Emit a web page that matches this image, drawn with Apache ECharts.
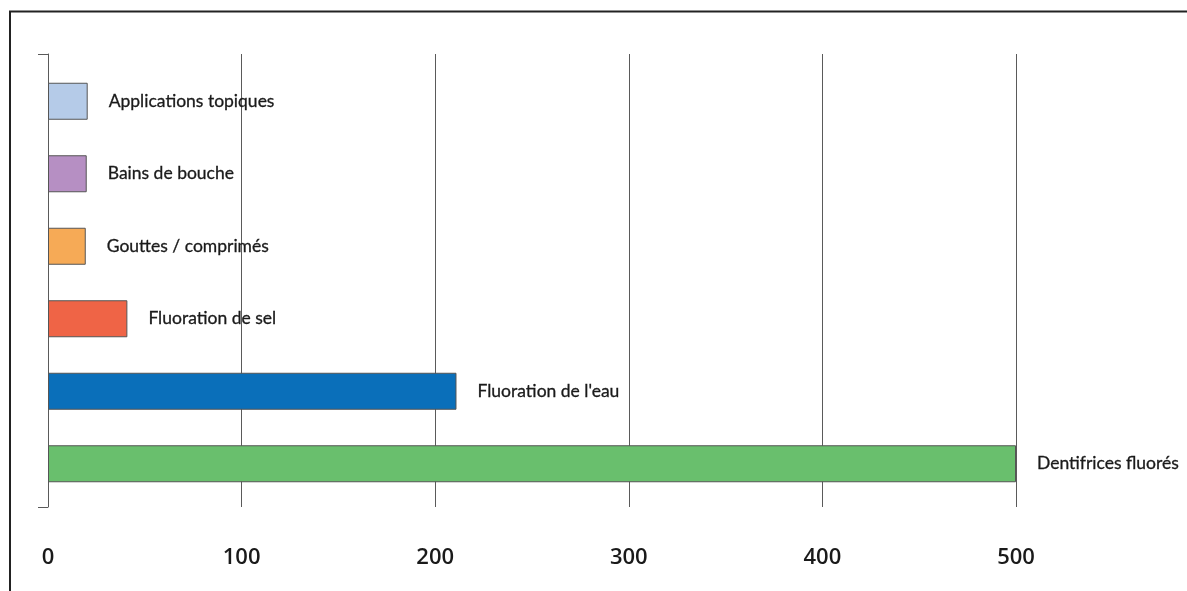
<!DOCTYPE html>
<html>
<head>
<meta charset="utf-8">
<script src="https://cdn.jsdelivr.net/npm/echarts@6/dist/echarts.min.js"></script>
<style>
  html, body { margin: 0; padding: 0; background: #fff; }
  #chart { width: 1187px; height: 591px; }
</style>
</head>
<body>
<div id="chart"></div>
<script>
// données
const categories = ['Applications topiques', 'Bains de bouche', 'Gouttes / comprimés', 'Fluoration de sel', "Fluoration de l'eau", 'Dentifrices fluorés']
const values = [20.5, 20, 19.5, 41, 211, 500]
const xTicks = [0, 100, 200, 300, 400, 500]

const barColors = ['#b5cbe8', '#b68fc3', '#f6aa56', '#ef6446', '#0a6fba', '#69bf6d']

const chart = echarts.init(document.getElementById('chart'))

const option = {
  animation: false,
  backgroundColor: '#fff',
  grid: [
    // barres
    { left: 48, right: 171, top: 65, bottom: 91 },
    // quadrillage + accolade
    { left: 48, right: 171, top: 54, bottom: 84 }
  ],
  xAxis: [
    {
      gridIndex: 0,
      type: 'value',
      min: 0,
      max: 500,
      show: false
    },
    {
      gridIndex: 1,
      type: 'value',
      min: xTicks[0],
      max: xTicks[xTicks.length - 1],
      interval: 100,
      axisLine: { show: false },
      axisTick: { show: false },
      axisLabel: {
        margin: 40,
        fontFamily: 'Open Sans',
        fontSize: 22,
        fontWeight: 600,
        color: '#1a1a1a',
        formatter: v => (xTicks.includes(v) ? String(v) : '')
      },
      splitLine: {
        show: true,
        lineStyle: { color: '#5a5a5a', width: 1 }
      }
    }
  ],
  yAxis: [
    {
      gridIndex: 0,
      type: 'category',
      inverse: true,
      data: categories,
      show: false
    },
    {
      gridIndex: 1,
      type: 'value',
      min: 0,
      max: 1,
      interval: 1,
      axisLine: { show: true, lineStyle: { color: '#5a5a5a', width: 1 } },
      axisTick: { show: true, length: 10, lineStyle: { color: '#5a5a5a' } },
      axisLabel: { show: false },
      splitLine: { show: false }
    }
  ],
  series: [
    {
      type: 'bar',
      xAxisIndex: 0,
      yAxisIndex: 0,
      barWidth: 37,
      z: 3,
      data: values.map((v, i) => ({
        value: v,
        itemStyle: { color: barColors[i] }
      })),
      itemStyle: {
        borderColor: '#555',
        borderWidth: 1
      },
      label: {
        show: true,
        position: 'right',
        distance: 21,
        fontFamily: 'Lato',
        fontSize: 17.5,
        color: '#1a1a1a',
        textBorderColor: '#1a1a1a',
        textBorderWidth: 0.3,
        formatter: p => categories[p.dataIndex]
      }
    }
  ],
  graphic: [
    // cadre
    {
      type: 'polyline',
      shape: { points: [[10, 591], [10, 11.5], [1187, 11.5]] },
      style: { stroke: '#222', lineWidth: 2, fill: null }
    }
  ]
}

chart.setOption(option)
</script>
</body>
</html>
